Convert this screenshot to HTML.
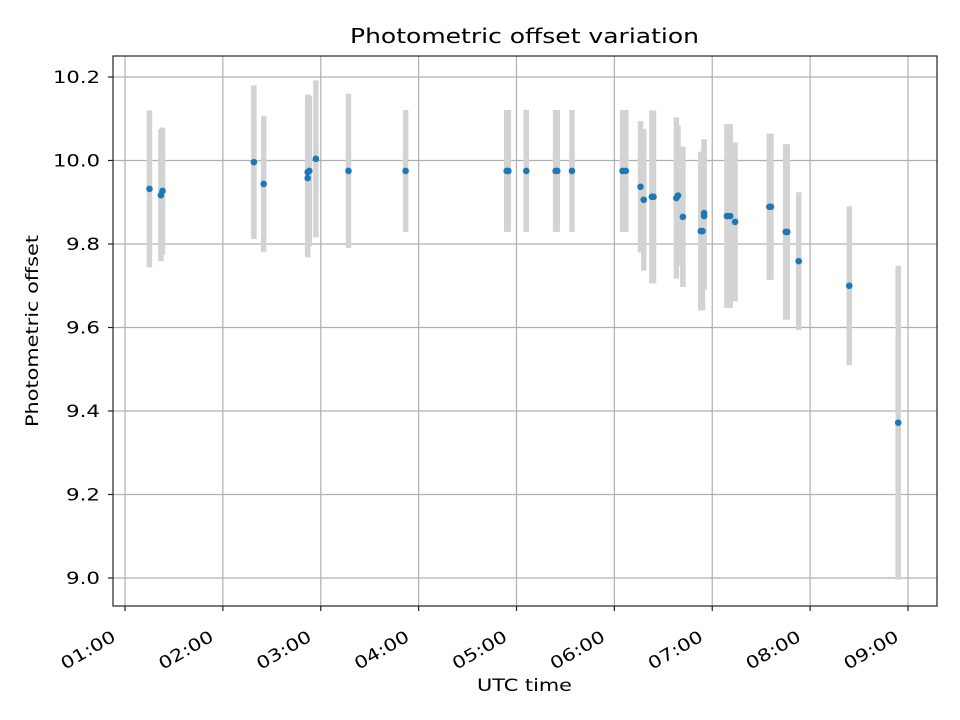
<!DOCTYPE html>
<html><head><meta charset="utf-8"><style>
html,body{margin:0;padding:0;background:#fff;}
svg{display:block;font-family:"DejaVu Sans","Liberation Sans",sans-serif;}
</style></head><body>
<svg id="chart" width="960" height="720">
<text x="524.5" y="43" font-size="20" text-anchor="middle" textLength="349" lengthAdjust="spacingAndGlyphs">Photometric offset variation</text>
<g id="grid"></g>
<g id="bars"></g>
<g id="pts"></g>
<rect x="113" y="56" width="824" height="550" fill="none" stroke="#222" stroke-width="1.2"/>
<g id="xt"></g>
<g id="yt"></g>
<text x="524.5" y="691" font-size="17" text-anchor="middle" textLength="95" lengthAdjust="spacingAndGlyphs">UTC time</text>
<text transform="translate(38,331) rotate(-90)" font-size="17" text-anchor="middle" textLength="192" lengthAdjust="spacingAndGlyphs">Photometric offset</text>
</svg>
<script>
const times=["01:15","01:22","01:23","02:19","02:25","02:52","02:52","02:53","02:57","03:17","03:52","04:54","04:55","05:06","05:24","05:25","05:34","06:05","06:07","06:16","06:18","06:23","06:24","06:38","06:39","06:42","06:53","06:54","06:55","06:55","07:09","07:11","07:14","07:35","07:36","07:45","07:46","07:53","08:24","08:54"];
const values=[9.932,9.917,9.927,9.996,9.944,9.958,9.972,9.975,10.004,9.975,9.975,9.975,9.975,9.975,9.975,9.975,9.975,9.975,9.975,9.937,9.906,9.913,9.913,9.91,9.916,9.865,9.831,9.831,9.867,9.874,9.867,9.867,9.853,9.889,9.889,9.829,9.829,9.759,9.7,9.372];
const errors=[0.188,0.158,0.152,0.184,0.163,0.19,0.186,0.18,0.188,0.185,0.146,0.146,0.146,0.146,0.146,0.146,0.146,0.146,0.146,0.157,0.17,0.207,0.207,0.193,0.168,0.168,0.19,0.19,0.177,0.177,0.22,0.22,0.19,0.175,0.175,0.21,0.21,0.165,0.19,0.376];
const xTicks=["01:00","02:00","03:00","04:00","05:00","06:00","07:00","08:00","09:00"];
const yTicks=[9.0,9.2,9.4,9.6,9.8,10.0,10.2];
const NS="http://www.w3.org/2000/svg";
function hrs(s){const p=s.split(":");return +p[0]+(+p[1])/60;}
function xs(s){return 125+(hrs(s)-1)*97.875;}
function ys(v){return 578-(v-9.0)/0.2*83.5;}
function mk(tag,attrs,parent){const e=document.createElementNS(NS,tag);for(const k in attrs)e.setAttribute(k,attrs[k]);document.getElementById(parent).appendChild(e);return e;}
xTicks.forEach(t=>{const x=xs(t);
 const g=mk("line",{x1:x,x2:x,y1:56,y2:606,stroke:"#b0b0b0","stroke-width":1.2},"grid");
 
 
 const tk=mk("line",{x1:x,x2:x,y1:606,y2:611,stroke:"#222","stroke-width":1.2},"xt");
 
 
 const tx=mk("text",{transform:`translate(${x-8},${640}) rotate(-30)`,"font-size":17,"text-anchor":"end",textLength:60,lengthAdjust:"spacingAndGlyphs"},"xt");
 tx.textContent=t;
 
 
});
yTicks.forEach(v=>{const y=ys(v);
 const g=mk("line",{x1:113,x2:937,y1:y,y2:y,stroke:"#b0b0b0","stroke-width":1.2},"grid");
 
 
 const tk=mk("line",{x1:108,x2:113,y1:y,y2:y,stroke:"#222","stroke-width":1.2},"yt");
 
 
 const lbl=v.toFixed(1);
 const tx=mk("text",{x:100,y:y+6,"font-size":17,"text-anchor":"end",textLength:lbl.length>3?47:34,lengthAdjust:"spacingAndGlyphs"},"yt");
 tx.textContent=lbl;
 
 
});
times.forEach((t,i)=>{const x=xs(t);
 const b=mk("line",{x1:x,x2:x,y1:ys(values[i]+errors[i]),y2:ys(values[i]-errors[i]),stroke:"#d3d3d3","stroke-width":5.5},"bars");
 
 
});
times.forEach((t,i)=>{
 const c=mk("circle",{cx:xs(t),cy:ys(values[i]),r:3.3,fill:"#1f77b4"},"pts");
 
 
});
</script>
</body></html>
